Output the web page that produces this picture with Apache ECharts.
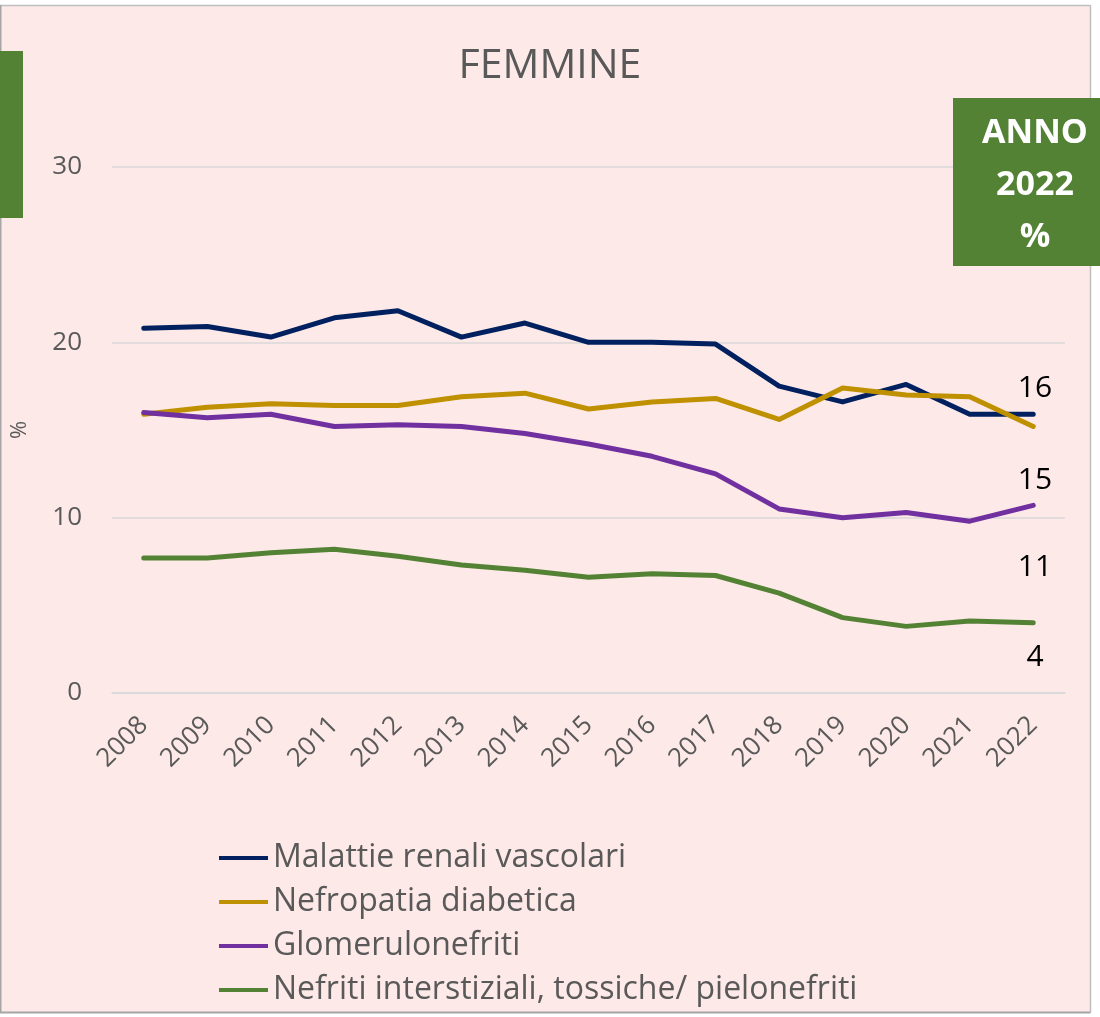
<!DOCTYPE html>
<html><head><meta charset="utf-8">
<script src="https://cdn.jsdelivr.net/npm/echarts@6/dist/echarts.min.js"></script>
<style>html,body{margin:0;padding:0;background:#fff}#c{width:1100px;height:1017px}</style>
</head><body><div id="c"></div>
<script>
const years = ['2008','2009','2010','2011','2012','2013','2014','2015','2016','2017','2018','2019','2020','2021','2022'];
const seriesNames = ['Malattie renali vascolari','Nefropatia diabetica','Glomerulonefriti','Nefriti interstiziali, tossiche/ pielonefriti'];
const vascolari = [20.8,20.9,20.3,21.4,21.8,20.3,21.1,20.0,20.0,19.9,17.5,16.6,17.6,15.9,15.9];
const diabetica = [15.9,16.3,16.5,16.4,16.4,16.9,17.1,16.2,16.6,16.8,15.6,17.4,17.0,16.9,15.2];
const glomerulo = [16.0,15.7,15.9,15.2,15.3,15.2,14.8,14.2,13.5,12.5,10.5,10.0,10.3,9.8,10.7];
const interstiz = [7.7,7.7,8.0,8.2,7.8,7.3,7.0,6.6,6.8,6.7,5.7,4.3,3.8,4.1,4.0];
const yTicks = [0,10,20,30];
const annoLabels = ['16','15','11','4'];
const boxLines = ['ANNO','2022','%'];
const colors = ['#002060','#BF9000','#7030A0','#548235'];
const FONT = '"Open Sans", sans-serif';

const data = [vascolari, diabetica, glomerulo, interstiz];
const chart = echarts.init(document.getElementById('c'), null, {renderer:'canvas'});

const annoY = [388, 480, 567, 657];
const graphics = [
  {type:'rect', z:100, shape:{x:1091,y:0,width:9,height:1017}, style:{fill:'#fff'}, silent:true},
  {type:'rect', z:100, shape:{x:0,y:1013,width:1100,height:4}, style:{fill:'#fff'}, silent:true},
  {type:'rect', z:100, shape:{x:0,y:0,width:1100,height:5}, style:{fill:'#fff'}, silent:true},
  {type:'line', z:101, shape:{x1:0,y1:5.5,x2:1090.5,y2:5.5}, style:{stroke:'#BFBFBF',lineWidth:1.5}},
  {type:'line', z:101, shape:{x1:1090.5,y1:5,x2:1090.5,y2:1012.5}, style:{stroke:'#BFBFBF',lineWidth:1.5}},
  {type:'line', z:101, shape:{x1:0,y1:1012.5,x2:1090.5,y2:1012.5}, style:{stroke:'#A6A6A6',lineWidth:2}},
  {type:'line', z:101, shape:{x1:0.75,y1:5,x2:0.75,y2:1012.5}, style:{stroke:'#A6A6A6',lineWidth:1.5}},
  {type:'rect', z:102, shape:{x:0,y:51,width:23,height:167}, style:{fill:'#548235'}},
  {type:'rect', z:102, shape:{x:953,y:98,width:147,height:168}, style:{fill:'#548235'}}
];
boxLines.forEach((t,i)=>{
  graphics.push({type:'text', z:103, x:1035, y:133+i*52, style:{text:t, fill:'#fff', font:'bold 34px "Open Sans", sans-serif', textAlign:'center', textVerticalAlign:'middle'}});
});
annoLabels.forEach((t,i)=>{
  graphics.push({type:'text', z:103, x:1035, y:annoY[i], style:{text:t, fill:'#000', font:'30px "Open Sans", sans-serif', textAlign:'center', textVerticalAlign:'middle'}});
});

chart.setOption({
  backgroundColor:'#FDE9E7',
  animation:false,
  color: colors,
  title:{text:'FEMMINE', left:'center', top:41, textStyle:{fontFamily:FONT, fontWeight:'normal', fontSize:41, color:'#595959'}},
  legend:{
    orient:'vertical', left:219, top:842, padding:0,
    data: seriesNames,
    icon:'rect', itemWidth:49, itemHeight:4, itemGap:12,
    textStyle:{fontFamily:FONT, fontSize:32, lineHeight:32, color:'#595959', padding:[0,0,0,0]}
  },
  grid:{left:112, right:35, top:167, bottom:324, containLabel:false},
  xAxis:{
    type:'category', data: years, boundaryGap:true,
    axisLine:{show:true, lineStyle:{color:'#D9D9D9', width:1.5}},
    axisTick:{show:false},
    axisLabel:{rotate:45, margin:28, fontFamily:FONT, fontSize:26, color:'#595959'}
  },
  yAxis:{
    type:'value', min:0, max:30, interval:10,
    name:'%', nameLocation:'middle', nameGap:81, nameRotate:90,
    nameTextStyle:{fontFamily:FONT, fontSize:22, color:'#595959'},
    axisLine:{show:false}, axisTick:{show:false},
    axisLabel:{margin:30, fontFamily:FONT, fontSize:26, color:'#595959',
      formatter:v=> yTicks.indexOf(v)>=0 ? String(v) : ''},
    splitLine:{lineStyle:{color:'#D9D9D9', width:1.5}}
  },
  series: seriesNames.map((n,i)=>({
    name:n, type:'line', data:data[i], symbol:'none', smooth:false,
    lineStyle:{width:5, color:colors[i], cap:'round', join:'round'},
    itemStyle:{color:colors[i]}
  })),
  graphic: graphics
});
</script></body></html>
